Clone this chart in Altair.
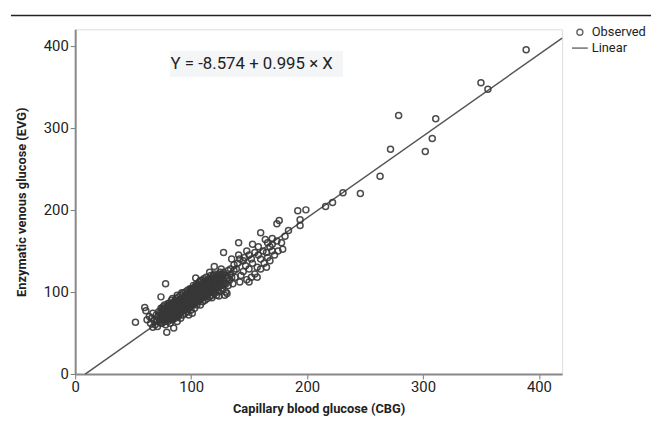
import altair as alt
import pandas as pd

# ---- observed points (CBG, EVG) ----
outlier_cbg = [389, 350, 356, 279, 311, 308, 272, 302, 263, 246, 231, 222, 216, 199, 192, 194, 194,
               174, 176, 184, 160, 164, 174, 179, 141, 128, 78, 74, 60, 61, 52, 79, 85, 67]
outlier_evg = [395, 355, 347, 315, 311, 287, 274, 271, 241, 220, 221, 209, 204, 200, 199, 188, 181,
               183, 187, 175, 172, 164, 162, 152, 160, 148, 110, 94, 81, 77, 63, 51, 56, 57]

mid_cbg = [140, 142, 145, 147, 150, 148, 152, 155, 153, 157, 160, 158, 162, 165, 163, 166, 168, 170,
           172, 170, 145, 143, 150, 155, 148, 152, 160, 165, 139, 137, 135, 141, 146, 138, 142, 150,
           157, 168, 175, 178, 181, 170, 166, 158, 153]
mid_evg = [135, 140, 138, 132, 145, 150, 140, 148, 135, 130, 140, 145, 150, 148, 135, 142, 155, 150,
           145, 158, 125, 120, 128, 122, 115, 118, 128, 130, 128, 133, 140, 145, 142, 118, 112, 112,
           118, 138, 150, 160, 168, 165, 160, 155, 158]

dense_cbg = [62, 64, 65, 66, 67, 68, 69, 70, 70, 71,
             72, 72, 73, 74, 74, 75, 75, 76, 76, 77,
             77, 78, 78, 78, 79, 79, 80, 80, 80, 81,
             81, 82, 82, 82, 83, 83, 84, 84, 84, 85,
             85, 86, 86, 86, 87, 87, 87, 88, 88, 88,
             89, 89, 89, 90, 90, 90, 91, 91, 91, 92,
             92, 92, 93, 93, 93, 94, 94, 94, 95, 95,
             95, 96, 96, 96, 97, 97, 97, 98, 98, 98,
             99, 99, 99, 100, 100, 100, 101, 101, 101, 102,
             102, 102, 103, 103, 103, 104, 104, 104, 105, 105,
             105, 106, 106, 106, 107, 107, 107, 108, 108, 108,
             109, 109, 109, 110, 110, 110, 111, 111, 111, 112,
             112, 112, 113, 113, 113, 114, 114, 114, 115, 115,
             116, 116, 116, 117, 117, 117, 118, 118, 118, 119,
             119, 120, 120, 120, 121, 121, 122, 122, 122, 123,
             124, 124, 125, 125, 126, 126, 127, 128, 128, 129,
             130, 130, 131, 132, 132, 133, 134, 135, 136, 137,
             83, 85, 87, 89, 91, 93, 95, 97, 99, 101,
             103, 105, 107, 109, 111, 113, 115, 84, 86, 88,
             90, 92, 94, 96, 98, 100, 102, 104, 106, 108,
             110, 112, 114, 82, 80, 78, 76, 79, 81, 85,
             118, 124, 129, 131, 104, 120, 126, 116,
             73, 75, 77, 79, 81, 83, 85, 87, 89, 91,
             93, 95, 97, 99, 101, 103, 105, 107, 109, 111,
             113, 115, 117, 119, 121, 123, 125, 127, 74, 76,
             78, 80, 82, 84, 86, 88, 90, 92, 94, 96,
             98, 100, 102, 104, 106, 108, 110, 112, 114, 116,
             118, 120, 122, 124, 126, 128, 130, 132, 134, 71]
dense_evg = [66, 70, 62, 68, 74, 65, 60, 72, 66, 58,
             70, 76, 64, 68, 80, 72, 62, 66, 78, 70,
             84, 74, 60, 66, 78, 70, 64, 82, 74, 68,
             86, 72, 78, 62, 76, 90, 70, 82, 66, 74,
             88, 78, 68, 84, 72, 92, 80, 76, 64, 86,
             70, 82, 94, 78, 74, 88, 68, 84, 96, 80,
             76, 90, 72, 86, 98, 82, 78, 92, 74, 88,
             100, 84, 80, 94, 76, 90, 102, 86, 72, 96,
             82, 92, 104, 88, 78, 98, 84, 94, 74, 90,
             100, 108, 86, 96, 80, 92, 104, 88, 98, 84,
             110, 94, 102, 88, 100, 112, 90, 96, 106, 84,
             102, 92, 114, 98, 108, 88, 104, 94, 116, 100,
             110, 90, 106, 96, 118, 102, 112, 92, 108, 98,
             104, 114, 94, 110, 100, 120, 106, 96, 116, 102,
             112, 108, 98, 122, 104, 114, 110, 96, 120, 106,
             116, 100, 112, 124, 108, 118, 104, 114, 124, 110,
             120, 100, 116, 126, 108, 114, 122, 118, 110, 126,
             80, 78, 76, 78, 80, 82, 84, 86, 88, 90,
             92, 94, 96, 98, 100, 102, 104, 74, 72, 70,
             82, 86, 88, 90, 92, 94, 96, 98, 100, 102,
             104, 106, 108, 68, 70, 72, 74, 82, 76, 82,
             93, 95, 96, 98, 117, 131, 128, 124,
             74, 68, 79, 73, 84, 71, 79, 88, 76, 86,
             92, 81, 90, 96, 85, 98, 91, 103, 95, 109,
             99, 107, 113, 104, 111, 117, 109, 121, 62, 82,
             77, 86, 80, 92, 75, 96, 90, 99, 84, 97,
             86, 103, 94, 108, 96, 114, 100, 111, 104, 110,
             103, 115, 105, 121, 112, 121, 110, 118, 128, 64]

core_cbg = [74, 76, 78, 80, 82, 84, 86, 88, 90, 92,
            94, 96, 98, 100, 102, 104, 106, 108, 110, 112,
            114, 116, 118, 120, 122, 124, 126, 128, 75, 77,
            79, 81, 83, 85, 87, 89, 91, 93, 95, 97,
            99, 101, 103, 105, 107, 109, 111, 113, 115, 117,
            119, 121, 123, 125, 127, 73, 75, 77, 79, 81,
            83, 85, 87, 89, 91, 93, 95, 97, 99, 101,
            103, 105, 107, 109, 111, 113, 115, 117, 119, 121,
            80, 82, 84, 86, 88, 90, 92, 94, 96, 98,
            100, 102, 104, 106, 108, 110, 112, 114, 116, 118,
            120, 122, 78, 80, 82, 84, 86, 88, 90, 92,
            94, 96, 98, 100, 102, 104, 106, 108, 110, 112]
core_evg = [72, 68, 80, 76, 70, 86, 80, 74, 90, 84,
            78, 96, 90, 84, 102, 96, 90, 108, 100, 94,
            112, 106, 100, 116, 112, 106, 120, 110, 76, 64,
            74, 82, 66, 84, 70, 86, 76, 94, 80, 98,
            86, 104, 90, 106, 94, 110, 96, 114, 100, 116,
            104, 118, 102, 116, 108, 66, 80, 74, 66, 72,
            84, 70, 88, 72, 90, 78, 96, 82, 100, 86,
            106, 88, 108, 94, 112, 98, 116, 102, 120, 100,
            78, 84, 78, 74, 82, 80, 78, 86, 82, 80,
            92, 86, 100, 96, 92, 106, 102, 98, 110, 108,
            104, 116, 70, 68, 76, 72, 88, 90, 86, 92,
            90, 88, 84, 102, 94, 90, 106, 100, 94, 108]

# ---- linear fit Y = -8.574 + 0.995 X, drawn across the axis range ----
fit_cbg = [8.617, 420]
fit_evg = [0, 409.3]
equation = "Y = -8.574 + 0.995 \u00d7 X"

series_names = ["Observed", "Linear"]
x_ticks = [0, 100, 200, 300, 400]
y_ticks = [0, 100, 200, 300, 400]

FONT = "Roboto, sans-serif"
INK = "#555555"

pts = pd.DataFrame({
    "cbg": outlier_cbg + mid_cbg + dense_cbg + core_cbg,
    "evg": outlier_evg + mid_evg + dense_evg + core_evg,
})
pts["series"] = "Observed"
fit = pd.DataFrame({"cbg": fit_cbg, "evg": fit_evg})

xs = alt.Scale(domain=[0, 420], nice=False, zero=False)
ys = alt.Scale(domain=[0, 420], nice=False, zero=False)

small_circle = "M-0.38,0A0.38,0.38 0 1,0 0.38,0A0.38,0.38 0 1,0 -0.38,0Z"
stroke_sym = "M-1,0H1"

x_axis = alt.Axis(values=x_ticks, title="Capillary blood glucose (CBG)", grid=False,
                  labelFontSize=15, labelFont=FONT, labelColor="#222", labelPadding=1,
                  tickColor="#777", tickSize=5, domainColor="#888", domainWidth=2,
                  titleFont=FONT, titleFontSize=13, titleFontWeight="bold", titleColor="#222",
                  titlePadding=8, labelFlush=False)
y_axis = alt.Axis(values=y_ticks, title="Enzymatic venous glucose (EVG)", grid=False,
                  labelFontSize=15, labelFont=FONT, labelColor="#222", labelPadding=2,
                  tickColor="#777", tickSize=5, domainColor="#888", domainWidth=2,
                  titleFont=FONT, titleFontSize=13, titleFontWeight="bold", titleColor="#222",
                  titlePadding=15, labelFlush=False)

box = alt.Chart(pd.DataFrame({"x": [82], "x2": [231], "y": [362], "y2": [394]})).mark_rect(
    color="#f4f5f7").encode(
    x=alt.X("x:Q", scale=xs, axis=x_axis), x2="x2", y=alt.Y("y:Q", scale=ys, axis=y_axis), y2="y2")

eq = alt.Chart(pd.DataFrame({"x": [82.3], "y": [378], "t": [equation]})).mark_text(
    font=FONT, fontSize=17, color="#222", align="left", baseline="middle").encode(
    x=alt.X("x:Q", scale=xs), y=alt.Y("y:Q", scale=ys), text="t:N")

line = alt.Chart(fit).mark_line(color=INK, strokeWidth=1.5).encode(
    x=alt.X("cbg:Q", scale=xs), y=alt.Y("evg:Q", scale=ys))

points = alt.Chart(pts).mark_point(filled=False, size=256, strokeWidth=1.5, color="#383838", opacity=0.9).encode(
    x=alt.X("cbg:Q", scale=xs),
    y=alt.Y("evg:Q", scale=ys),
    shape=alt.Shape("series:N",
                    scale=alt.Scale(domain=series_names, range=[small_circle, stroke_sym]),
                    legend=alt.Legend(title=None, orient="none", legendX=502, legendY=-6,
                                      labelFont=FONT, labelFontSize=13, labelColor="#222",
                                      symbolSize=256, symbolStrokeColor=INK, symbolFillColor="transparent",
                                      symbolStrokeWidth=1.4, labelOffset=3, rowPadding=-6,
                                      symbolType="circle")),
)

top_rule = alt.Chart(pd.DataFrame({"a": [0]})).mark_rule(color="#222", strokeWidth=1.5).encode(
    x=alt.value(-65), x2=alt.value(590), y=alt.value(-14))

chart = alt.layer(box, eq, line, points, top_rule).properties(
    width=493, height=349,
    autosize="none",
    padding={"left": 68, "top": 19, "right": 90, "bottom": 46},
).configure_view(fill="#ebebee", stroke="#888", strokeWidth=1.5).configure(background="white")

chart.save("out.html", embed_options={"renderer": "svg", "actions": False})
